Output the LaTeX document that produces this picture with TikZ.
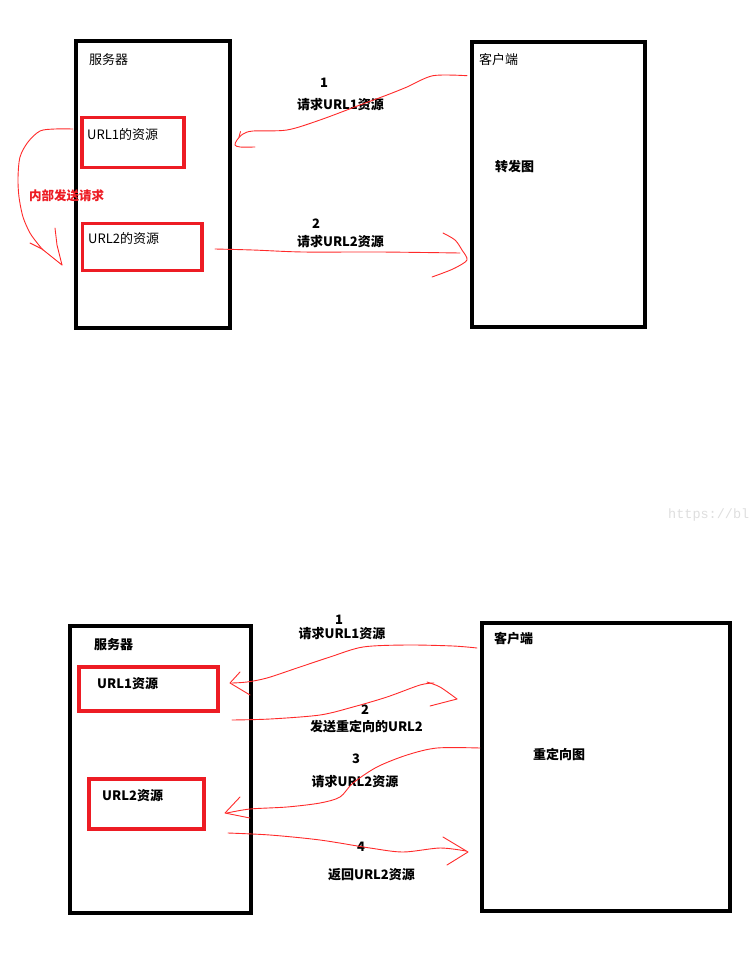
\documentclass[tikz,border=0pt]{standalone}
\usepackage{fontspec}
\setmainfont{Noto Sans CJK SC}
\newfontfamily\wmfont{Liberation Mono}
\definecolor{boxred}{HTML}{ED1C24}
\definecolor{penred}{HTML}{FF2A2A}
\begin{document}
\begin{tikzpicture}[x=1pt,y=-1pt,
  blackbox/.style={draw=black,line width=4pt,inner sep=0pt},
  redbox/.style={draw=boxred,line width=3.5pt,inner sep=0pt},
  txt/.style={inner sep=0pt,yshift=-2pt,font=\fontsize{13}{15}\selectfont},
  btxt/.style={inner sep=0pt,yshift=-2pt,font=\fontsize{13}{15}\selectfont\bfseries},
  pen/.style={draw=penred,line width=0.9pt,line join=round,line cap=round}]
\useasboundingbox (0,0) rectangle (748,966);
% ---------- top: forward ----------
\node[blackbox,minimum width=153.5pt,minimum height=286pt] (srvA) at (152.75,184.5) {};
\node[redbox,minimum width=102pt,minimum height=50pt] (u1A) at (133,142.5) {};
\node[redbox,minimum width=119.5pt,minimum height=47pt] (u2A) at (142.25,247) {};
\node[blackbox,minimum width=173pt,minimum height=284.5pt] (cliA) at (558.5,184.75) {};
\node[txt,anchor=west] (tsrvA) at (89,58) {服务器};
\node[txt,anchor=west] (tu1A) at (87,133) {URL1的资源};
\node[txt,anchor=west] (tu2A) at (88,237) {URL2的资源};
\node[txt,anchor=west] (tcliA) at (479,58) {客户端};
\node[btxt,anchor=west] (tfwd) at (495,165) {转发图};
\node[btxt,text=boxred,font=\fontsize{12.5}{15}\selectfont\bfseries] (tint) at (66.5,194) {内部发送请求};
\node[btxt] (n1A) at (324,81) {1};
\node[btxt] (l1A) at (340.5,103) {请求URL1资源};
\node[btxt] (n2A) at (316,222) {2};
\node[btxt] (l2A) at (340.5,240) {请求URL2资源};
% arrow 1 (client -> server)
\draw[pen] plot[smooth,tension=0.5] coordinates {(467,75.7) (433,75.7) (407,87) (387,95) (360,105) (320,120) (287,130) (253,131) (243,134) (237,140) (235,145) (240,147) (255,147)};
\draw[pen] (240.5,131.5) -- (239,137);
% arrow 2 (server -> client)
\draw[pen] plot[smooth,tension=0.5] coordinates {(215,249) (253,250) (303,252) (380,252) (460,253)};
\draw[pen] plot[smooth,tension=0.5] coordinates {(443,233) (455,240) (462,250) (467,260) (455,268) (443,273) (432,277)};
% internal request
\draw[pen] plot[smooth,tension=0.5] coordinates {(73,129) (55,129) (40,131) (28,142) (20,157) (18,178) (19,197) (23,217) (30,233) (38,244) (43,250)};
\draw[pen] (30,243) -- (42,249) -- (62,265);
\draw[pen] (55,228) -- (57,245) -- (62,265);
% ---------- bottom: redirect ----------
\node[blackbox,minimum width=181pt,minimum height=287.5pt] (srvB) at (160,769.25) {};
\node[redbox,minimum width=139pt,minimum height=44pt] (u1B) at (148.5,689) {};
\node[redbox,minimum width=115pt,minimum height=50pt] (u2B) at (146.5,804) {};
\node[blackbox,minimum width=247.5pt,minimum height=287.5pt] (cliB) at (605.75,766.75) {};
\node[btxt,anchor=west] (tsrvB) at (94,643) {服务器};
\node[btxt,anchor=west] (tu1B) at (97,682) {URL1资源};
\node[btxt,anchor=west] (tu2B) at (102,794) {URL2资源};
\node[btxt,anchor=west] (tcliB) at (494,637) {客户端};
\node[btxt,anchor=west] (tred) at (533,752) {重定向图};
\node[btxt] (n1B) at (339,618) {1};
\node[btxt] (l1B) at (342,632) {请求URL1资源};
\node[btxt] (n2B) at (365,708) {2};
\node[btxt] (l2B) at (366.5,725) {发送重定向的URL2};
\node[btxt] (n3B) at (356,757) {3};
\node[btxt] (l3B) at (355,780) {请求URL2资源};
\node[btxt] (n4B) at (361,845) {4};
\node[btxt] (l4B) at (371.5,873) {返回URL2资源};
% arrow 1
\draw[pen] plot[smooth,tension=0.5] coordinates {(477,648) (453,646) (407,645) (363,647) (330,657) (297,668) (267,678) (247,682) (232,683)};
\draw[pen] (240,672) -- (230,683) -- (250,695);
% arrow 2
\draw[pen] plot[smooth,tension=0.5] coordinates {(232,720) (270,719) (320,715) (353,707) (387,697) (420,685) (434,683)};
\draw[pen] plot[smooth,tension=0.5] coordinates {(427,682) (440,687) (457,699)};
\draw[pen] (457,699) -- (430,706);
% arrow 3
\draw[pen] plot[smooth,tension=0.5] coordinates {(480,748) (437,748) (407,755) (377,767) (353,783) (340,797) (320,803) (287,807) (250,809) (227,813)};
\draw[pen] (240,797) -- (225,813) -- (250,818);
% arrow 4
\draw[pen] plot[smooth,tension=0.5] coordinates {(228,833) (270,835) (320,840) (370,848) (403,852) (440,848) (466,851)};
\draw[pen] (443,837) -- (468,852) -- (447,865);
% watermark
\node[inner sep=0pt,anchor=west,text=black!13,font=\wmfont\fontsize{13.5}{15}\selectfont] (wm) at (668,515) {https://bl};
\end{tikzpicture}
\end{document}
